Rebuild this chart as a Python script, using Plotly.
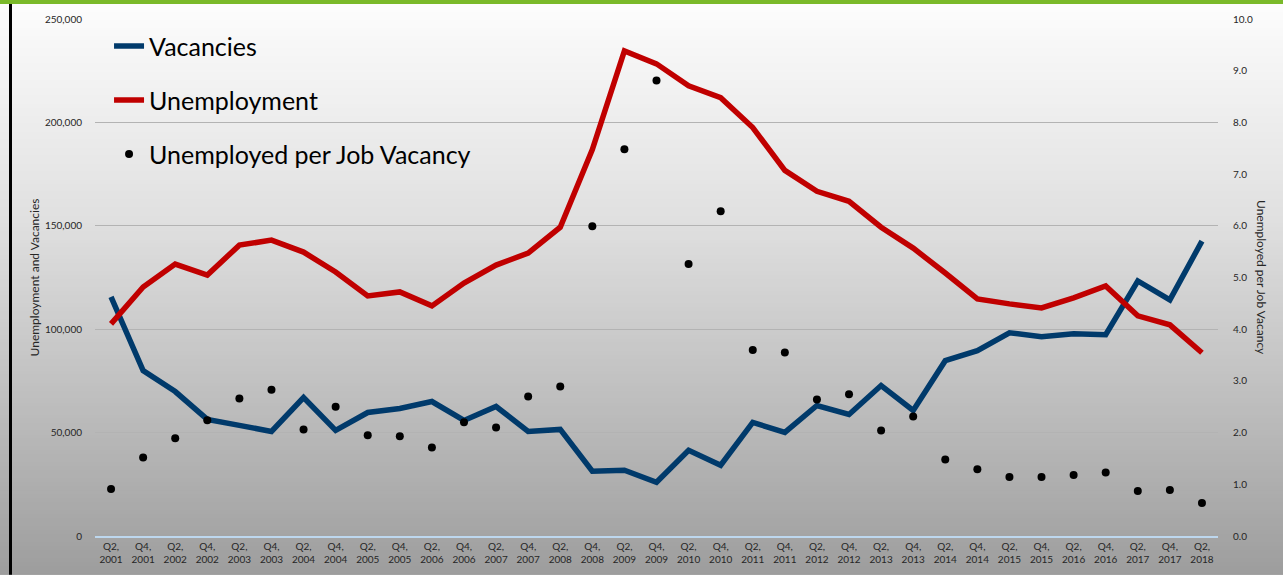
import plotly.graph_objects as go

quarters = ["Q2,<br>2001","Q4,<br>2001","Q2,<br>2002","Q4,<br>2002","Q2,<br>2003","Q4,<br>2003",
            "Q2,<br>2004","Q4,<br>2004","Q2,<br>2005","Q4,<br>2005","Q2,<br>2006","Q4,<br>2006",
            "Q2,<br>2007","Q4,<br>2007","Q2,<br>2008","Q4,<br>2008","Q2,<br>2009","Q4,<br>2009",
            "Q2,<br>2010","Q4,<br>2010","Q2,<br>2011","Q4,<br>2011","Q2,<br>2012","Q4,<br>2012",
            "Q2,<br>2013","Q4,<br>2013","Q2,<br>2014","Q4,<br>2014","Q2,<br>2015","Q4,<br>2015",
            "Q2,<br>2016","Q4,<br>2016","Q2,<br>2017","Q4,<br>2017","Q2,<br>2018"]

vacancies = [115600, 79960, 69850, 56360, 53470, 50580, 66960, 51060, 59730, 61660,
             65030, 55880, 62620, 50580, 51540, 31310, 31790, 26010, 41430, 34200,
             54910, 50100, 63100, 58770, 72740, 60690, 84780, 89600, 98270, 96340,
             97780, 97300, 123310, 114160, 142580]

unemployment = [102600, 120420, 131500, 126200, 140660, 143060, 137280, 127650, 116090, 118020,
                111270, 122350, 131020, 136800, 149330, 186900, 234590, 228320, 217730, 211950,
                197500, 176780, 166670, 161850, 149330, 139210, 127170, 114640, 112240, 110310,
                115130, 120910, 106460, 102120, 88630]

ratio = [0.91, 1.52, 1.89, 2.24, 2.66, 2.83, 2.06, 2.50, 1.95, 1.93,
         1.71, 2.20, 2.10, 2.70, 2.89, 5.99, 7.48, 8.81, 5.26, 6.28,
         3.60, 3.55, 2.64, 2.74, 2.04, 2.31, 1.48, 1.29, 1.14, 1.14,
         1.18, 1.23, 0.87, 0.89, 0.64]

left_ticks = [0, 50000, 100000, 150000, 200000, 250000]
right_ticks = [0, 1, 2, 3, 4, 5, 6, 7, 8, 9, 10]

W, H = 1283, 577
L, R, T, B = 95, 1218, 19, 538
pw, ph = R - L, B - T

def px_x(x):
    return (x - L) / pw

def px_y(y):
    return (B - y) / ph

def grey(y):
    # piecewise linear gradient (top light, bottom darker)
    stops = [(0, 253), (220, 224), (577, 157)]
    for (y0, c0), (y1, c1) in zip(stops[:-1], stops[1:]):
        if y <= y1:
            c = c0 + (c1 - c0) * (y - y0) / (y1 - y0)
            return int(round(c))
    return stops[-1][1]

shapes = []
step = 4
for y in range(4, H, step):
    c = grey(y + step / 2)
    shapes.append(dict(type="rect", xref="paper", yref="paper",
                       x0=px_x(0), x1=px_x(W), y0=px_y(min(y + step + 1.5, H)), y1=px_y(y),
                       fillcolor=f"rgb({c},{c},{c})", line=dict(width=0), layer="below"))
# top green bar
shapes.append(dict(type="rect", xref="paper", yref="paper",
                   x0=px_x(0), x1=px_x(W), y0=px_y(4), y1=px_y(0),
                   fillcolor="#7ab929", line=dict(width=0), layer="below"))
# left black border
shapes.append(dict(type="rect", xref="paper", yref="paper",
                   x0=px_x(9), x1=px_x(12), y0=px_y(H), y1=px_y(4),
                   fillcolor="#000000", line=dict(width=0), layer="below"))

font = "Lato, 'Open Sans', sans-serif"

fig = go.Figure()
fig.add_trace(go.Scatter(x=quarters, y=vacancies, name="Vacancies", mode="lines",
                         line=dict(color="#003a6b", width=5.5), legendgroup="a"))
fig.add_trace(go.Scatter(x=quarters, y=unemployment, name="Unemployment", mode="lines",
                         line=dict(color="#c00000", width=5.5), legendgroup="b"))
fig.add_trace(go.Scatter(x=quarters, y=ratio, name="Unemployed per Job Vacancy", mode="markers",
                         marker=dict(color="#000000", size=8), yaxis="y2", legendgroup="c"))

fig.update_layout(
    width=W, height=H,
    margin=dict(l=L, r=W - R, t=T, b=H - B),
    paper_bgcolor="#ffffff",
    plot_bgcolor="rgba(0,0,0,0)",
    font=dict(family=font, color="#262626"),
    shapes=shapes,
    showlegend=True,
    legend=dict(x=0.0125, y=0.992, xanchor="left", yanchor="top",
                bgcolor="rgba(0,0,0,0)", font=dict(size=25, color="#000000"),
                tracegroupgap=18.5, traceorder="grouped", itemwidth=30),
    xaxis=dict(type="category", showgrid=False, showline=True, linecolor="#bdd7ee", linewidth=2,
               ticks="", tickfont=dict(size=10, color="#262626"), tickangle=0,
               range=[-0.5, len(quarters) - 0.5], zeroline=False),
    yaxis=dict(range=[0, 250000], tickvals=left_ticks, tickformat=",d",
               showgrid=True, gridcolor="#b3b3b3", gridwidth=1, zeroline=False,
               tickfont=dict(size=10, color="#262626"), ticklabelstandoff=12,
               title=dict(text="Unemployment and Vacancies", font=dict(size=12, color="#262626"),
                          standoff=2)),
    yaxis2=dict(range=[0, 10], tickvals=right_ticks, tickformat=".1f", overlaying="y", side="right",
                showgrid=False, zeroline=False, tickfont=dict(size=10, color="#262626"),
                ticklabelstandoff=14),
    annotations=[dict(text="Unemployed per Job Vacancy", textangle=90, xref="paper", yref="paper",
                      x=px_x(1262), y=px_y(278), xanchor="center", yanchor="middle",
                      showarrow=False, font=dict(size=12, color="#262626"))],
)

fig.write_html("out.html", config={"displayModeBar": False},
               post_script="document.body.style.margin='0';")
